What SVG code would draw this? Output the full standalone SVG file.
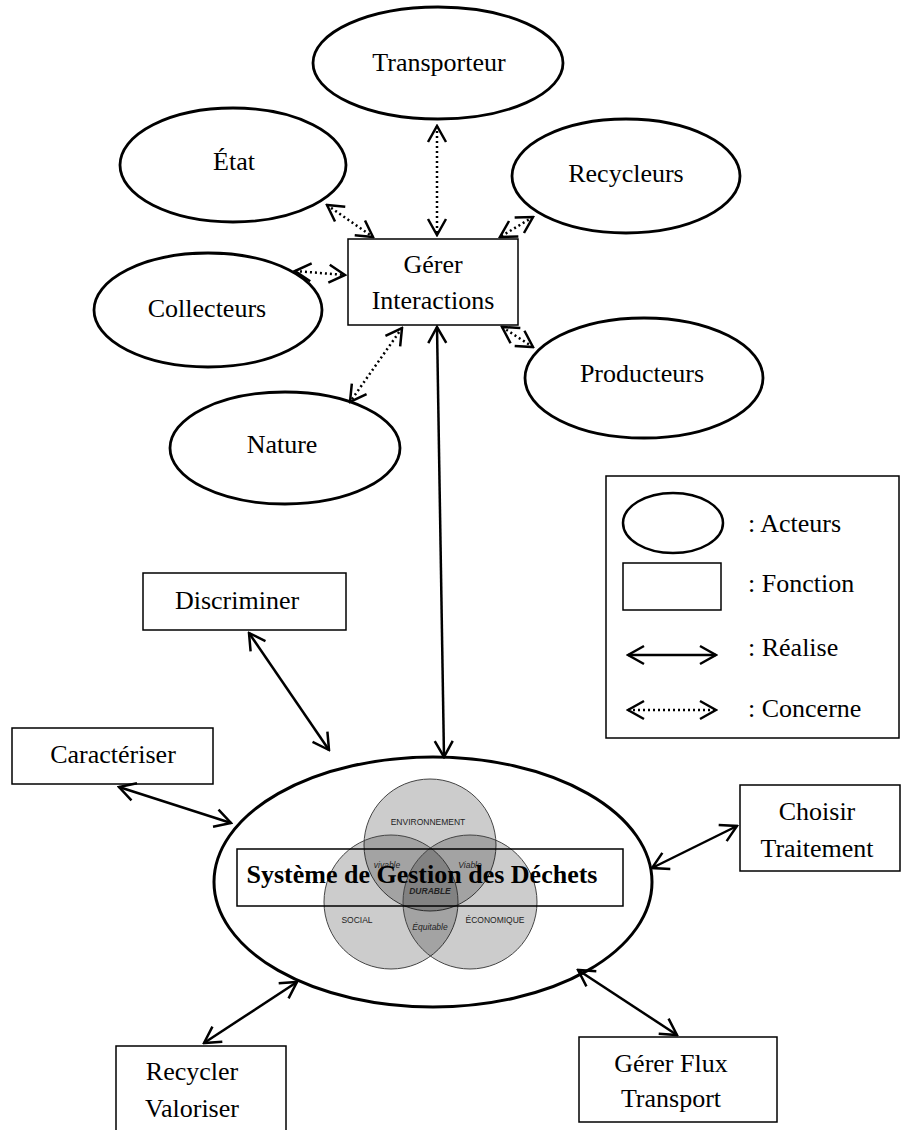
<svg xmlns="http://www.w3.org/2000/svg" width="901" height="1130" viewBox="0 0 901 1130">
<style>
.el{fill:#fff;stroke:#000;stroke-width:2.8}
.bx{fill:#fff;stroke:#000;stroke-width:1.5}
.t{font-family:"Liberation Serif","Times New Roman",serif;font-size:26px;fill:#000;text-anchor:middle}
.tl{font-family:"Liberation Serif","Times New Roman",serif;font-size:26px;fill:#000}
.s{fill:none;stroke:#000;stroke-width:2.5;marker-start:url(#ah);marker-end:url(#ah)}
.d{fill:none;stroke:#000;stroke-width:2.5;stroke-dasharray:2 3;marker-start:url(#ah);marker-end:url(#ah)}
.vc{fill:#000;fill-opacity:0.2;stroke:#444;stroke-width:1}
.vt{font-family:"Liberation Sans",Arial,sans-serif;font-size:8.5px;fill:#222;text-anchor:middle}
.vi{font-style:italic}
</style>
<defs>
<marker id="ah" viewBox="-20 -12 22 24" refX="0" refY="0" markerWidth="22" markerHeight="24" markerUnits="userSpaceOnUse" orient="auto-start-reverse">
<path d="M-16,-9 L0,0 L-16,9" fill="none" stroke="#000" stroke-width="2.5"/>
</marker>
</defs>
<rect width="901" height="1130" fill="#fff"/>

<g id="transporteur"><ellipse class="el" cx="438" cy="63" rx="125" ry="56"/><text class="t" x="439" y="71">Transporteur</text></g>
<g id="etat"><ellipse class="el" cx="233" cy="165" rx="113" ry="57"/><text class="t" x="234" y="170">État</text></g>
<g id="recycleurs"><ellipse class="el" cx="626" cy="176" rx="114" ry="57"/><text class="t" x="626" y="182">Recycleurs</text></g>
<g id="collecteurs"><ellipse class="el" cx="208" cy="310" rx="114" ry="57"/><text class="t" x="207" y="317">Collecteurs</text></g>
<g id="producteurs"><ellipse class="el" cx="644" cy="378" rx="119" ry="60"/><text class="t" x="642" y="382">Producteurs</text></g>
<g id="nature"><ellipse class="el" cx="285" cy="448" rx="115" ry="56"/><text class="t" x="282" y="453">Nature</text></g>

<g id="gerer-interactions"><rect class="bx" x="348" y="239" width="170" height="86"/><text class="t" x="433" y="273">Gérer</text><text class="t" x="433" y="309">Interactions</text></g>

<g id="legende">
<rect x="606" y="476" width="293" height="262" fill="#fff" stroke="#000" stroke-width="1.5"/>
<ellipse cx="673" cy="523" rx="50" ry="30" fill="#fff" stroke="#000" stroke-width="2.5"/>
<text class="tl" x="748" y="532">: Acteurs</text>
<rect x="623" y="563" width="98" height="47" fill="#fff" stroke="#000" stroke-width="1.5"/>
<text class="tl" x="748" y="592">: Fonction</text>
<line class="s" x1="628" y1="655" x2="716" y2="655"/>
<text class="tl" x="748" y="656">: Réalise</text>
<line class="d" x1="628" y1="710" x2="716" y2="710"/>
<text class="tl" x="748" y="717">: Concerne</text>
</g>

<g id="discriminer"><rect class="bx" x="143" y="573" width="203" height="57"/><text class="t" x="237" y="609">Discriminer</text></g>
<g id="caracteriser"><rect class="bx" x="12" y="728" width="201" height="56"/><text class="t" x="113" y="763">Caractériser</text></g>
<g id="choisir-traitement"><rect class="bx" x="740" y="785" width="160" height="86"/><text class="t" x="817" y="820">Choisir</text><text class="t" x="817" y="857">Traitement</text></g>
<g id="gerer-flux"><rect class="bx" x="579" y="1037" width="198" height="85"/><text class="t" x="671" y="1072">Gérer Flux</text><text class="t" x="671" y="1107">Transport</text></g>
<g id="recycler-valoriser"><rect class="bx" x="116" y="1046" width="170" height="90"/><text class="t" x="192" y="1080">Recycler</text><text class="t" x="192" y="1117">Valoriser</text></g>

<g id="systeme">
<ellipse cx="433" cy="882" rx="219" ry="125" fill="#fff" stroke="#000" stroke-width="3"/>
<circle class="vc" cx="430" cy="845" r="66"/>
<circle class="vc" cx="391" cy="902" r="67"/>
<circle class="vc" cx="470" cy="902" r="67"/>
<text class="vt" x="428" y="825">ENVIRONNEMENT</text>
<text class="vt vi" x="387" y="868">vivable</text>
<text class="vt vi" x="470" y="868">Viable</text>
<text class="vt vi" x="430" y="894" font-weight="bold">DURABLE</text>
<text class="vt" x="357" y="923">SOCIAL</text>
<text class="vt" x="495" y="923">ÉCONOMIQUE</text>
<text class="vt vi" x="430" y="930">Équitable</text>
<rect x="237" y="849" width="386" height="57" fill="none" stroke="#000" stroke-width="1.5"/>
<text class="t" x="422" y="883" font-weight="bold" font-size="26.5">Système de Gestion des Déchets</text>
</g>

<g id="connecteurs">
<line class="d" x1="437" y1="126" x2="437" y2="235"/>
<line class="d" x1="327" y1="205" x2="373" y2="237"/>
<line class="d" x1="533" y1="217" x2="500" y2="237"/>
<line class="d" x1="295" y1="271" x2="345" y2="275"/>
<line class="d" x1="502" y1="327" x2="533" y2="347"/>
<line class="d" x1="402" y1="328" x2="350" y2="402"/>
<line class="s" x1="437" y1="327" x2="444" y2="757"/>
<line class="s" x1="249" y1="633" x2="329" y2="750"/>
<line class="s" x1="119" y1="787" x2="231" y2="823"/>
<line class="s" x1="652" y1="868" x2="737" y2="826"/>
<line class="s" x1="297" y1="982" x2="204" y2="1043"/>
<line class="s" x1="578" y1="970" x2="677" y2="1035"/>
</g>
</svg>
